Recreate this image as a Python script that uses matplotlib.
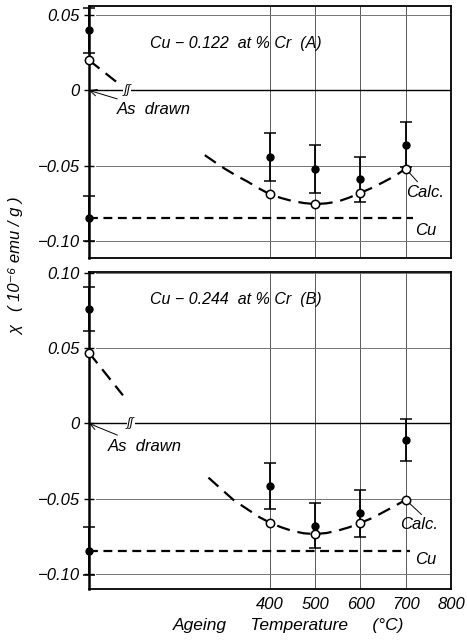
import matplotlib
matplotlib.use('Agg')
import matplotlib.pyplot as plt

plt.rcParams['font.family'] = ['Liberation Sans', 'DejaVu Sans']
plt.rcParams['font.style'] = 'italic'
plt.rcParams['font.size'] = 12

temps = [400, 500, 600, 700]
xtick_vals = [400, 500, 600, 700, 800]

# panel A : Cu-0.122 at% Cr
a_meas = [-0.044, -0.052, -0.059, -0.036]
a_err = [0.016, 0.016, 0.015, 0.015]
a_calc = [-0.069, -0.0755, -0.068, -0.052]
a_curve_t = [256, 280, 300, 325, 350, 375, 400, 425, 450, 475, 500,
             525, 550, 575, 600, 625, 650, 675, 700]
a_curve = [-0.043, -0.048, -0.052, -0.0565, -0.0605, -0.065, -0.069, -0.0715,
           -0.0735, -0.0748, -0.0755, -0.075, -0.0738, -0.0712, -0.068,
           -0.0648, -0.061, -0.057, -0.052]
a_drawn_meas, a_drawn_err, a_drawn_calc = 0.040, 0.015, 0.020
a_drawn_t = [0, 73]
a_drawn_line = [0.020, 0.0027]
a_cu, a_cu_err, a_cu_end = -0.085, 0.015, 716
a_yticks = [0.05, 0, -0.05, -0.10]
a_ylabels = ['0.05', '0', '\u22120.05', '\u22120.10']

# panel B : Cu-0.244 at% Cr
b_meas = [-0.0415, -0.068, -0.0598, -0.0111]
b_err = [0.0155, 0.015, 0.0155, 0.014]
b_calc = [-0.066, -0.0735, -0.066, -0.0507]
b_curve_t = [264, 290, 320, 350, 375, 400, 425, 450, 475, 500,
             525, 550, 575, 600, 625, 650, 675, 700]
b_curve = [-0.036, -0.043, -0.051, -0.057, -0.062, -0.066, -0.069, -0.0715,
           -0.073, -0.0735, -0.0728, -0.0712, -0.069, -0.066, -0.063,
           -0.059, -0.055, -0.0507]
b_drawn_meas, b_drawn_err, b_drawn_calc = 0.076, 0.0145, 0.047
b_drawn_t = [0, 75]
b_drawn_line = [0.047, 0.0187]
b_cu, b_cu_err, b_cu_end = -0.0847, 0.016, 709
b_yticks = [0.10, 0.05, 0, -0.05, -0.10]
b_ylabels = ['0.10', '0.05', '0', '\u22120.05', '\u22120.10']

fig = plt.figure(figsize=(4.67, 6.42), dpi=100)
axA = fig.add_axes([0.1906, 0.5981, 0.7751, 0.3925])
axB = fig.add_axes([0.1906, 0.0826, 0.7751, 0.4938])


def panel(ax, meas, err, calc, ct, cv, dm, de, dc, dt, dl, cu, cue, cuend,
          yt, yl, ylim, title, tpos, dpos, brk, cpos, carr, cupos):
    ax.set_xlim(0, 800)
    ax.set_ylim(*ylim)
    for t in temps:
        ax.axvline(t, color='0.35', lw=0.7, zorder=0)
    for v in yt:
        if v != 0:
            ax.axhline(v, xmin=0.02, color='0.45', lw=0.7, zorder=0)
    ax.axhline(0, color='black', lw=1.0, zorder=1)

    # calculated curve
    ax.plot(ct, cv, color='black', lw=1.6, dashes=(6, 3.5), zorder=2)
    ax.plot(dt, dl, color='black', lw=1.6, dashes=(6, 3.5), zorder=2)
    # Cu reference
    ax.plot([0, cuend], [cu, cu], color='black', lw=1.6, dashes=(4, 2.5), zorder=2)

    ax.errorbar(temps, meas, yerr=err, fmt='o', color='black', ms=5,
                capsize=4, elinewidth=1.3, capthick=1.1, zorder=3)
    ax.plot(temps, calc, 'o', mfc='white', mec='black', mew=1.1, ms=6, zorder=4)

    ax.errorbar([0], [dm], yerr=[de], fmt='o', color='black', ms=5, capsize=4,
                elinewidth=1.3, capthick=1.1, clip_on=False, zorder=5)
    ax.errorbar([0], [cu], yerr=[cue], fmt='o', color='black', ms=5, capsize=4,
                elinewidth=1.3, capthick=1.1, clip_on=False, zorder=5)
    ax.plot([0], [dc], 'o', mfc='white', mec='black', mew=1.1, ms=6,
            clip_on=False, zorder=6)

    ax.text(tpos[0], tpos[1], title, ha='left', va='center', fontsize=11.5)
    ax.annotate('As  drawn', xy=(0, 0), xytext=dpos, ha='left', va='center',
                fontsize=12,
                arrowprops=dict(arrowstyle='->', lw=0.7, color='black',
                                shrinkA=2, shrinkB=0))
    ax.text(brk, 0, '\u0283\u0283', ha='center', va='center', fontsize=9,
            bbox=dict(fc='white', ec='none', pad=0.3), zorder=3)
    ax.text(cpos[0], cpos[1], 'Calc.', ha='left', va='center', fontsize=12)
    ax.annotate('', xy=(700, calc[-1]), xytext=carr,
                arrowprops=dict(arrowstyle='-', lw=0.7, color='black',
                                shrinkA=0, shrinkB=3))
    ax.text(cupos[0], cupos[1], 'Cu', ha='left', va='center', fontsize=12)

    ax.set_yticks(yt)
    ax.set_yticklabels(yl)
    ax.set_xticks(xtick_vals)
    ax.tick_params(axis='y', direction='inout', length=7, width=1.0, pad=3,
                   labelsize=12)
    ax.tick_params(axis='x', length=0, pad=6, labelsize=12)
    for s in ax.spines.values():
        s.set_linewidth(1.3)
    ax.spines['left'].set_linewidth(1.8)


panel(axA, a_meas, a_err, a_calc, a_curve_t, a_curve, a_drawn_meas, a_drawn_err,
      a_drawn_calc, a_drawn_t, a_drawn_line, a_cu, a_cu_err, a_cu_end,
      a_yticks, a_ylabels, (-0.1113, 0.056),
      'Cu \u2212 0.122  at % Cr  (A)', (135, 0.031), (62, -0.013), 84,
      (700, -0.068), (726, -0.0607), (720, -0.0927))
panel(axB, b_meas, b_err, b_calc, b_curve_t, b_curve, b_drawn_meas, b_drawn_err,
      b_drawn_calc, b_drawn_t, b_drawn_line, b_cu, b_cu_err, b_cu_end,
      b_yticks, b_ylabels, (-0.110, 0.1007),
      'Cu \u2212 0.244  at % Cr  (B)', (135, 0.0827), (42, -0.0153), 92,
      (687, -0.0673), (735, -0.0606), (720, -0.0905))

axA.tick_params(axis='x', labelbottom=False)
axB.set_xticklabels([str(v) for v in xtick_vals])
axB.set_xlabel('Ageing     Temperature     (\u00b0C)', fontsize=12.5, labelpad=10)
axB.xaxis.set_label_coords(0.55, -0.09)

fig.text(0.035, 0.586, '\u03c7   ( 10\u207b\u2076 emu / g )', rotation=90,
         ha='center', va='center', fontsize=12)

fig.savefig('out.png', dpi=100)
